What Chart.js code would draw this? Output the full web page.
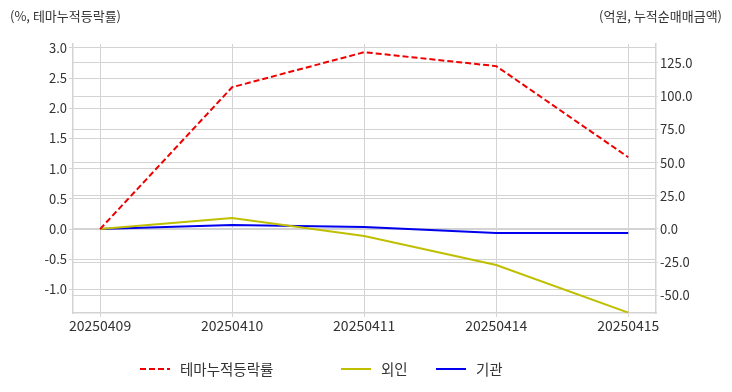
<!DOCTYPE html>
<html>
<head>
<meta charset="utf-8">
<script src="https://cdn.jsdelivr.net/npm/chart.js@4/dist/chart.umd.min.js"></script>
<style>
  body { margin: 0; background: #fff; }
  #wrap { width: 732px; height: 392px; }
</style>
</head>
<body>
<div id="wrap"><canvas id="chart" width="732" height="392"></canvas></div>
<script>
// data
let dates = ["20250409", "20250410", "20250411", "20250414", "20250415"];
let themeRate = [0.0, 2.35, 2.93, 2.70, 1.19];   // %, left axis
let foreign = [0.0, 8.3, -5.3, -27.1, -63.0];    // 억원, right axis
let inst = [0.0, 3.0, 1.5, -3.0, -3.0];          // 억원, right axis

const FONT = "'Noto Sans CJK KR', 'Noto Sans', sans-serif";
const GRID = "#d3d3d3";
const TXT = "#333";

function pts(arr){
  return arr.map((v,i)=>({x:i, y:v}));
}

// axis titles on top corners
const titles = {
  id: "titles",
  afterDraw(chart){
    let ctx = chart.ctx;
    ctx.save();
    ctx.font = "13px " + FONT;
    ctx.fillStyle = TXT;
    ctx.textBaseline = "middle";
    ctx.textAlign = "left";
    ctx.fillText("(%, 테마누적등락률)", 10, 16);
    ctx.textAlign = "right";
    ctx.fillText("(억원, 누적순매매금액)", 722, 16);
    ctx.restore();
  }
};

// legend below the plot, drawn by hand to get the uneven spacing
const legendX = [140, 341, 436];
const bottomLegend = {
  id: "bottomLegend",
  afterDraw(chart){
    let ctx = chart.ctx;
    let y = 369;
    ctx.save();
    ctx.font = "14.5px " + FONT;
    ctx.textBaseline = "middle";
    ctx.textAlign = "left";
    chart.data.datasets.forEach((ds,i)=>{
      let x = legendX[i];
      ctx.strokeStyle = ds.borderColor;
      ctx.lineWidth = ds.borderWidth;
      ctx.setLineDash(ds.borderDash || []);
      ctx.beginPath();
      ctx.moveTo(x, y);
      ctx.lineTo(x + 30, y);
      ctx.stroke();
      ctx.fillStyle = TXT;
      ctx.fillText(ds.label, x + 40, y);
    });
    ctx.restore();
  }
};

new Chart(document.getElementById("chart"), {
  type: "line",
  data: {
    datasets: [
      {
        label: "테마누적등락률",
        data: pts(themeRate),
        yAxisID: "y",
        borderColor: "#ee0000",
        backgroundColor: "#ee0000",
        borderWidth: 2,
        borderDash: [6, 3],
        pointRadius: 0,
        tension: 0
      },
      {
        label: "외인",
        data: pts(foreign),
        yAxisID: "y2",
        borderColor: "#bfbf00",
        backgroundColor: "#bfbf00",
        borderWidth: 2,
        pointRadius: 0,
        tension: 0
      },
      {
        label: "기관",
        data: pts(inst),
        yAxisID: "y2",
        borderColor: "#0000ee",
        backgroundColor: "#0000ee",
        borderWidth: 2,
        pointRadius: 0,
        tension: 0
      }
    ]
  },
  options: {
    responsive: false,
    animation: false,
    layout: { padding: { top: 44, left: 0, right: 0, bottom: 47 } },
    scales: {
      x: {
        type: "linear",
        min: -0.205,
        max: 4.21,
        afterBuildTicks: (axis)=>{ axis.ticks = dates.map((d,i)=>({value:i})); },
        ticks: {
          callback: (v)=>dates[v],
          font: { size: 14, family: FONT },
          color: TXT,
          maxRotation: 0,
          padding: 0
        },
        grid: { color: GRID, tickLength: 4 },
        border: { color: GRID, width: 1.5 },
        afterFit: (axis)=>{ axis.height = 32; }
      },
      y: {
        position: "left",
        min: -1.39,
        max: 3.066,
        afterBuildTicks: (axis)=>{
          let t = [];
          for(let v=-1.0; v<=3.0001; v+=0.5) t.push({value: Math.round(v*10)/10});
          axis.ticks = t;
        },
        ticks: {
          callback: (v)=>v.toFixed(1),
          font: { size: 13, family: FONT },
          color: TXT,
          padding: 2
        },
        grid: { color: GRID, tickLength: 4 },
        border: { color: GRID, width: 1.5 },
        afterFit: (axis)=>{ axis.width = 73; }
      },
      y2: {
        position: "right",
        min: -63.3,
        max: 139.3,
        afterBuildTicks: (axis)=>{
          let t = [];
          for(let v=-50; v<=125; v+=25) t.push({value: v});
          axis.ticks = t;
        },
        ticks: {
          callback: (v)=>v.toFixed(1),
          font: { size: 13, family: FONT },
          color: TXT,
          padding: 2
        },
        grid: { color: GRID, tickLength: 2 },
        border: { color: GRID, width: 1.5 },
        afterFit: (axis)=>{ axis.width = 76; }
      }
    },
    plugins: {
      legend: { display: false },
      tooltip: { enabled: false }
    }
  },
  plugins: [titles, bottomLegend]
});
</script>
</body>
</html>
